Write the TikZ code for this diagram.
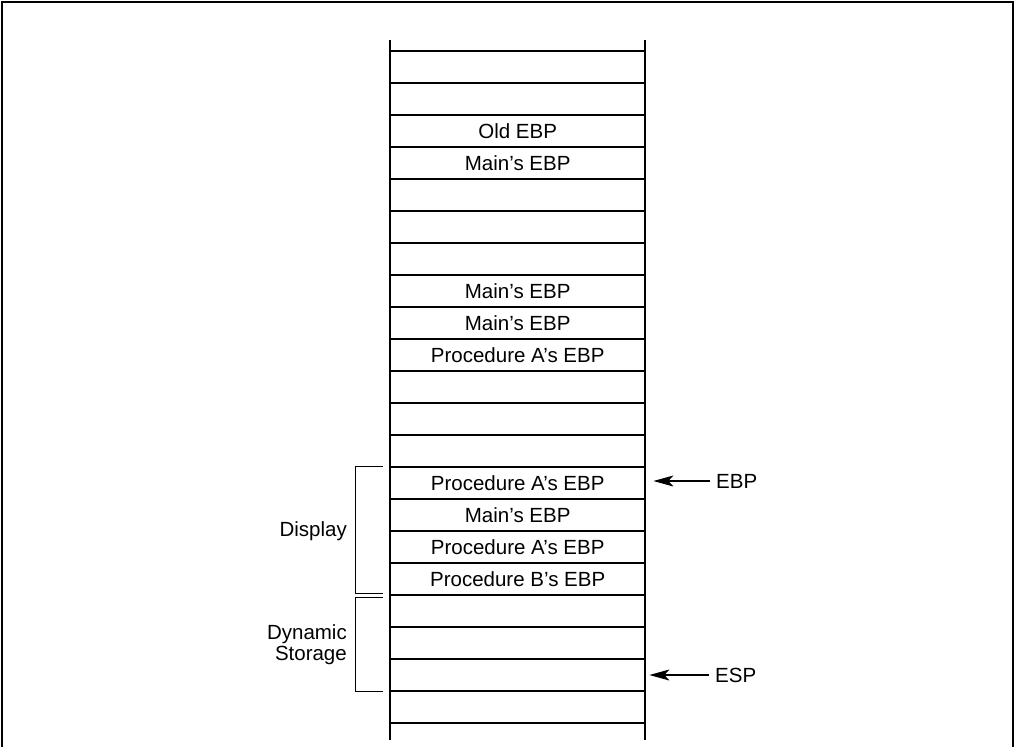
\documentclass[tikz,border=0pt]{standalone}
\usepackage{fontspec}
\setmainfont{Liberation Sans}
\usetikzlibrary{arrows.meta}
\begin{document}
\begin{tikzpicture}[x=1pt,y=-1pt,
  txt/.style={font=\fontsize{20.5}{21}\selectfont, inner sep=0pt},
  cell/.style={txt, minimum width=255pt, minimum height=32pt, anchor=north west},
  rail/.style={line width=2pt},
  rung/.style={line width=1.3pt},
  brace/.style={line width=1pt},
  ptr/.style={line width=1.2pt, -{Stealth[length=20pt,width=11pt,inset=5pt]}}]
\useasboundingbox (0,0) rectangle (1015,747);
% frame (open at bottom)
\draw[line width=2.5pt] (2,747) -- (2,2) -- (1013,2) -- (1013,747);
% rails
\draw[rail] (390,40) -- (390,740);
\draw[rail] (645,40) -- (645,740);
% rungs
\foreach \k in {0,...,21} {
  \draw[rung] (390,51+32*\k) -- (645,51+32*\k);
}
% cells (row k from line 51+32k)
\foreach \k/\t in {0/,1/,2/Old EBP,3/Main’s EBP,4/,5/,6/,7/Main’s EBP,8/Main’s EBP,9/Procedure A’s EBP,10/,11/,12/,13/Procedure A’s EBP,14/Main’s EBP,15/Procedure A’s EBP,16/Procedure B’s EBP,17/,18/,19/,20/} {
  \node[cell] (c\k) at (390,51+32*\k) {\t};
}
% brackets
\draw[brace] (383,466) -- (355,466) -- (355,593) -- (383,593);
\draw[brace] (383,597) -- (355,597) -- (355,691) -- (383,691);
\node[txt, anchor=east] (disp) at (347,531) {Display};
\node[txt, anchor=east, align=right] (dyn) at (347,645) {Dynamic\\Storage};
% pointers
\node[txt, anchor=west] (ebp) at (716,481) {EBP};
\node[txt, anchor=west] (esp) at (715,675) {ESP};
\draw[ptr, shorten >=8pt] (ebp.west) ++(-6,0) coordinate (ebpt) -- (c13.east |- ebpt);
\draw[ptr, shorten >=4pt] (esp.west) ++(-6,0) coordinate (espt) -- (c19.east |- espt);
\end{tikzpicture}
\end{document}
